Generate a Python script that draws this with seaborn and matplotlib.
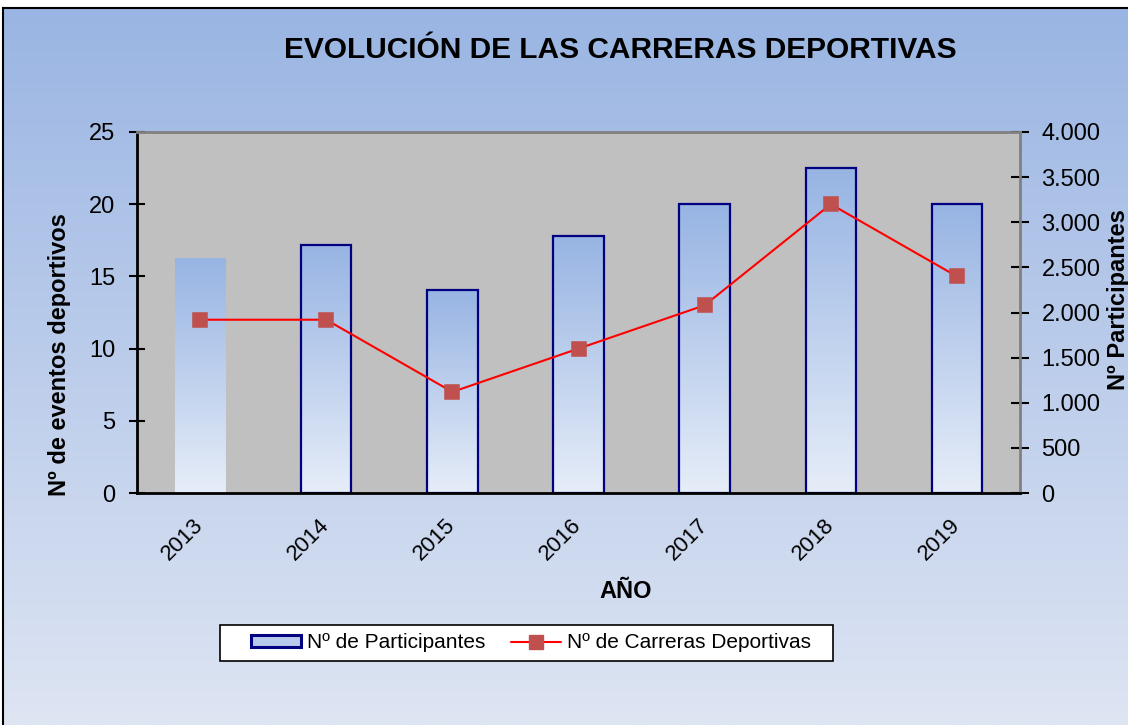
import numpy as np
import pandas as pd
import matplotlib
matplotlib.use('Agg')
import matplotlib.pyplot as plt
import seaborn as sns
from matplotlib.colors import LinearSegmentedColormap
from matplotlib.patches import Patch, Rectangle
from matplotlib.lines import Line2D
from matplotlib.ticker import FuncFormatter

years = ['2013', '2014', '2015', '2016', '2017', '2018', '2019']
participantes = [2600, 2750, 2250, 2850, 3200, 3600, 3200]
carreras = [12, 12, 7, 10, 13, 20, 15]

df = pd.DataFrame({'anio': years, 'participantes': participantes, 'carreras': carreras})

sns.set_style('white')
plt.rcParams['font.family'] = ['Liberation Sans', 'DejaVu Sans']
plt.rcParams['text.color'] = 'black'
plt.rcParams['axes.labelcolor'] = 'black'
plt.rcParams['xtick.color'] = 'black'
plt.rcParams['ytick.color'] = 'black'

fig = plt.figure(figsize=(11.28, 7.25), dpi=100)
fig.patch.set_facecolor('white')

# fondo degradado del grafico
bg = fig.add_axes([3 / 1128, 0, 1 - 3 / 1128, 1 - 8 / 725], zorder=-10)
bg_cmap = LinearSegmentedColormap.from_list('bg', ['#9AB5E3', '#DEE5F3'])
bg.imshow(np.linspace(0, 1, 256)[:, None], aspect='auto', cmap=bg_cmap,
          extent=[0, 1, 0, 1], origin='upper')
bg.set_xticks([])
bg.set_yticks([])
for s in ['right', 'bottom']:
    bg.spines[s].set_visible(False)
for s in ['left', 'top']:
    bg.spines[s].set_color('black')
    bg.spines[s].set_linewidth(1.5)

ax = fig.add_axes([137 / 1128, 1 - 493 / 725, (1020 - 137) / 1128, (493 - 132) / 725])
ax2 = ax.twinx()

# barras: participantes (eje derecho)
sns.barplot(data=df, x='anio', y='participantes', ax=ax2, width=0.4,
            color='#B8CAEB', edgecolor='#000080', linewidth=1.6)
bar_cmap = LinearSegmentedColormap.from_list('bar', ['#97B4E3', '#E6EDF8'])
for i, p in enumerate(ax2.patches):
    x0, w, h = p.get_x(), p.get_width(), p.get_height()
    p.set_facecolor('none')
    p.set_zorder(3)
    if i == 0:
        p.set_edgecolor('none')
    im = ax2.imshow(np.linspace(0, 1, 256)[:, None], aspect='auto', cmap=bar_cmap,
                    extent=[x0, x0 + w, 0, h], origin='upper', zorder=2)
    im.set_clip_path(p)

ax2.patch.set_visible(True)
ax2.set_facecolor('#C0C0C0')
ax2.set_ylim(0, 4000)
ax2.set_yticks(range(0, 4001, 500))
ax2.yaxis.set_major_formatter(FuncFormatter(lambda v, _: f"{int(v):,}".replace(',', '.')))
ax2.set_ylabel('')
for s in ax2.spines.values():
    s.set_visible(False)
ax2.tick_params(axis='y', direction='inout', length=13, width=1.5, pad=9,
                labelsize=17, right=True, colors='black')

# linea: carreras (eje izquierdo)
sns.pointplot(data=df, x='anio', y='carreras', ax=ax, color='#FF0000',
              markers='s', errorbar=None, linewidth=1.5, markersize=9.5,
              markerfacecolor='#C0504D', markeredgecolor='#C0504D')
ax.set_zorder(ax2.get_zorder() + 1)
ax.patch.set_visible(False)
ax.set_ylim(0, 25)
ax.set_yticks(range(0, 26, 5))
ax.set_xlim(-0.5, 6.5)
ax.set_xticks(np.arange(-0.5, 7, 1))
ax.set_xticklabels([''] * 8)
ax.set_xticks(range(7), minor=True)
ax.set_xticklabels(years, minor=True, rotation=45, ha='right', va='center',
                   rotation_mode='anchor', fontsize=16)
ax.tick_params(axis='x', which='minor', length=0, pad=21)
ax.tick_params(axis='x', which='major', direction='inout', length=11.5, width=1.5)
ax.tick_params(axis='y', direction='inout', length=11.5, width=1.5, pad=10,
               labelsize=17, left=True)
for s in ['left', 'bottom']:
    ax.spines[s].set_color('black')
    ax.spines[s].set_linewidth(2)
for s in ['top', 'right']:
    ax.spines[s].set_color('#808080')
    ax.spines[s].set_linewidth(2)
ax.set_xlabel('')
ax.set_ylabel('')

fig.text(620 / 1128, 1 - 50 / 725, 'EVOLUCIÓN DE LAS CARRERAS DEPORTIVAS',
         ha='center', va='center', fontsize=21.5, fontweight='bold')
fig.text(60 / 1128, 1 - 355 / 725, 'Nº de eventos deportivos', rotation=90,
         ha='center', va='center', fontsize=17, fontweight='bold')
fig.text(1118 / 1128, 1 - 300 / 725, 'Nº Participantes', rotation=90,
         ha='center', va='center', fontsize=17, fontweight='bold')
fig.text(626 / 1128, 1 - 592 / 725, 'AÑO', ha='center', va='center',
         fontsize=17, fontweight='bold')

# recuadro de la leyenda
fig.add_artist(Rectangle((220 / 1128, 1 - 661 / 725), (833 - 220) / 1128, 36 / 725,
                         transform=fig.transFigure, facecolor='white',
                         edgecolor='black', linewidth=1.2, zorder=5))
handles = [Patch(facecolor='#B8CAEB', edgecolor='#000080', linewidth=2.2),
           Line2D([0], [0], color='#FF0000', lw=1.5, marker='s', markersize=9.5,
                  markerfacecolor='#C0504D', markeredgecolor='#C0504D')]
leg = fig.legend(handles, ['Nº de Participantes', 'Nº de Carreras Deportivas'],
                 loc='center', bbox_to_anchor=(531 / 1128, 1 - 643 / 725), ncol=2,
                 fontsize=15, frameon=False, handlelength=2.4, handleheight=0.5,
                 handletextpad=0.3, columnspacing=1.2)
leg.set_zorder(6)

fig.savefig('out.png', dpi=100)
